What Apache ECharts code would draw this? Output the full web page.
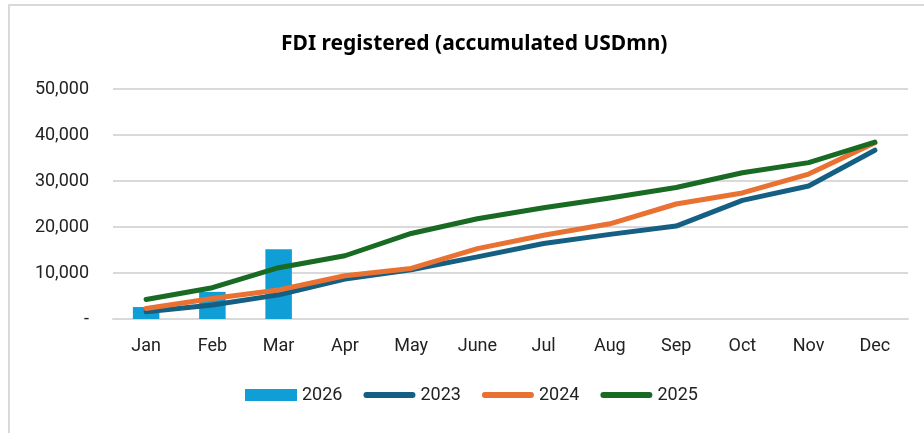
<!DOCTYPE html>
<html>
<head>
<meta charset="utf-8">
<script src="https://cdn.jsdelivr.net/npm/echarts@6/dist/echarts.min.js"></script>
<style>
  html, body { margin: 0; padding: 0; background: #fff; }
  #frame { position: absolute; left: 8px; top: 4px; width: 940px; height: 450px;
           border-left: 2px solid #d9d9d9; border-top: 2px solid #d9d9d9; }
  #chart { position: absolute; left: 0; top: 0; width: 924px; height: 433px; }
</style>
</head>
<body>
<div id="frame"></div>
<div id="chart"></div>
<script>
const months = ['Jan', 'Feb', 'Mar', 'Apr', 'May', 'June', 'Jul', 'Aug', 'Sep', 'Oct', 'Nov', 'Dec']
const fdi2026 = [2600, 5900, 15150]
const fdi2023 = [1600, 3050, 5250, 8700, 10700, 13500, 16400, 18400, 20200, 25800, 28900, 36700]
const fdi2024 = [2300, 4450, 6300, 9400, 11000, 15300, 18200, 20700, 25000, 27400, 31500, 38300]
const fdi2025 = [4250, 6800, 11150, 13750, 18600, 21800, 24200, 26300, 28600, 31800, 34000, 38450]

// thin rounded bar centred in a 54x12 box (move-to points set the box)
const lineIcon = 'path://M0,0M54,12M3,3h48a3,3 0 0 1 0,6h-48a3,3 0 0 1 0,-6z'

const chart = echarts.init(document.getElementById('chart'))

const lineSeries = (name, data, color) => ({
  name,
  type: 'line',
  data,
  symbol: 'none',
  lineStyle: { width: 5, color, cap: 'round', join: 'round' },
  itemStyle: { color },
  z: 3
})

chart.setOption({
  animation: false,
  textStyle: { fontFamily: 'Roboto' },
  title: {
    text: 'FDI registered (accumulated USDmn)',
    left: 276,
    top: 29,
    textStyle: { fontFamily: 'Noto Sans', fontSize: 21, fontWeight: 'bold', color: '#000' }
  },
  legend: {
    bottom: 24,
    left: 240,
    itemGap: 21,
    itemWidth: 52,
    itemHeight: 12,
    textStyle: { fontSize: 18, color: '#222', fontFamily: 'Roboto' },
    data: [
      { name: '2026', icon: 'rect' },
      { name: '2023', icon: lineIcon },
      { name: '2024', icon: lineIcon },
      { name: '2025', icon: lineIcon }
    ]
  },
  grid: { left: 113, right: 16, top: 89, bottom: 114 },
  xAxis: {
    type: 'category',
    data: months,
    axisLine: { show: true, lineStyle: { color: '#d9d9d9', width: 2 } },
    axisTick: { show: false },
    axisLabel: { color: '#222', fontSize: 18, margin: 18 }
  },
  yAxis: {
    type: 'value',
    min: 0,
    max: 50000,
    interval: 10000,
    axisLine: { show: false },
    axisTick: { show: false },
    splitLine: { lineStyle: { color: '#d9d9d9', width: 2 } },
    axisLabel: {
      color: '#222',
      fontSize: 18,
      margin: 24,
      formatter: v => v === 0 ? '-' : v.toLocaleString('en-US')
    }
  },
  series: [
    {
      name: '2026',
      type: 'bar',
      data: fdi2026,
      barWidth: '40%',
      itemStyle: { color: '#0F9ED5' },
      z: 2
    },
    lineSeries('2023', fdi2023, '#156082'),
    lineSeries('2024', fdi2024, '#E97132'),
    lineSeries('2025', fdi2025, '#196B24')
  ]
})
</script>
</body>
</html>
